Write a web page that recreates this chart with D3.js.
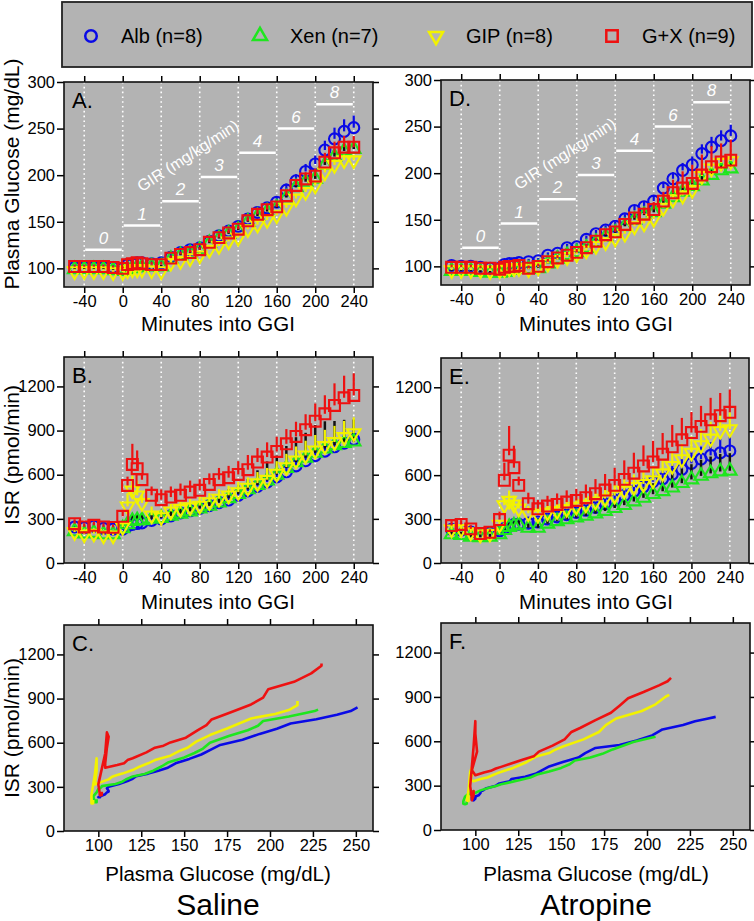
<!DOCTYPE html>
<html><head><meta charset="utf-8">
<script src="https://cdn.jsdelivr.net/npm/d3@7"></script>
<style>body{margin:0;background:#fff}svg{display:block}text{font-family:"Liberation Sans",Arial,Helvetica,sans-serif}</style>
</head><body><svg id="c" width="754" height="921"></svg>
<script>
// ---------- DATA ----------
const times = [-50,-40,-30,-20,-10,0,5,10,15,20,30,40,50,60,70,80,90,100,110,120,130,140,150,160,170,180,190,200,210,220,230,240];
const groups = ["Alb (n=8)","Xen (n=7)","GIP (n=8)","G+X (n=9)"];
const timeTicks = [-40,0,40,80,120,160,200,240];
const glucoseTicks = [100,150,200,250,300];
const isrTicks = [0,300,600,900,1200];
const glucoseXTicks = [100,125,150,175,200,225,250];
const girLabels = ["0","1","2","3","4","6","8"];
const girStart = [-40,0,40,80,120,160,200];
const girLevel = [120,146,172,198,224,250,276];

// Saline – plasma glucose (mg/dL)
const salGluAlb = [101,101,101,101,101,100,104,105,106,106,105,106,112,117,120,122,129,135,140,145,153,160,165,171,184,194,204,212,227,239,247,251];
const salGluXen = [99,99,99,99,98,97,99,100,101,101,102,102,110,114,116,120,127,132,137,141,150,156,161,165,176,187,193,196,211,220,226,228];
const salGluGip = [97,97,97,97,96,96,98,99,99,99,98,97,106,108,111,114,120,124,129,133,142,147,152,157,165,175,182,189,203,211,216,216];
const salGluGx  = [102,102,102,102,101,100,104,105,106,105,104,104,111,115,117,120,128,133,138,142,151,158,163,166,178,189,196,199,214,224,230,230];
const salGluErrAlb = [3,3,3,3,3,3,3,3,3,3,3,3,4,4,4,4,4,5,5,5,5,5,6,6,7,7,8,9,10,12,13,13];
const salGluErrXen = [2,2,2,2,2,2,2,2,2,2,2,2,3,3,3,3,3,3,3,3,4,4,4,4,5,5,5,5,6,6,6,6];
const salGluErrGip = [2,2,2,2,2,2,2,2,2,2,2,2,3,3,3,3,3,3,3,4,4,4,4,5,5,5,5,6,6,6,6,6];
const salGluErrGx  = [2,2,2,2,2,2,3,3,3,3,3,3,3,3,3,3,4,4,4,4,4,5,5,5,6,6,7,8,10,12,12,12];

// Saline – ISR (pmol/min)
const salIsrAlb = [245,240,250,235,230,230,250,262,268,272,290,300,320,340,355,372,390,410,428,460,490,520,550,585,620,660,695,730,760,790,815,840];
const salIsrXen = [215,200,205,195,195,235,262,285,290,290,300,305,320,335,350,370,388,410,440,468,500,530,560,600,645,685,715,748,778,800,815,825];
const salIsrGip = [210,195,200,188,188,245,385,494,460,408,324,312,351,369,380,390,414,437,460,482,512,543,566,607,652,697,731,765,795,822,856,883];
const salIsrGx  = [267,245,256,245,242,317,527,670,641,566,460,430,448,460,482,494,534,566,580,602,634,686,720,758,810,860,906,964,1014,1071,1123,1139];
const salIsrErrAlb = [20,20,20,20,20,20,20,20,20,20,20,20,25,25,25,25,25,30,30,30,30,35,35,35,40,40,40,45,45,45,50,50];
const salIsrErrXen = [25,25,25,25,25,25,30,45,45,40,30,35,40,40,45,45,50,55,60,60,70,100,130,130,150,170,170,190,185,165,158,150];
const salIsrErrGip = [20,20,20,20,20,30,90,100,100,60,60,50,50,50,55,60,60,65,65,70,70,75,80,85,90,95,100,105,110,110,110,107];
const salIsrErrGx  = [30,25,25,25,20,30,60,140,124,40,60,70,72,80,78,75,75,80,80,90,100,95,100,100,100,100,105,120,126,150,150,150];

// Atropine – plasma glucose (mg/dL)
const atrGluAlb = [101,100,100,99,98,98,102,103,103,104,105,106,112,114,120,121,129,135,139,143,151,160,164,170,184,194,203,209,221,228,235,240];
const atrGluXen = [95,95,95,94,93,93,94,96,97,98,97,98,103,108,112,115,120,126,132,136,143,150,155,158,167,174,180,186,192,198,203,205];
const atrGluGip = [96,96,96,96,95,96,97,98,98,98,97,99,103,107,110,113,117,122,126,130,135,143,146,151,163,172,176,182,197,205,211,213];
const atrGluGx  = [99,99,99,98,98,97,99,100,100,101,98,100,105,109,112,115,120,127,134,137,145,152,156,161,170,179,184,189,198,207,212,214];
const atrGluErrAlb = [3,3,3,3,3,3,3,3,3,3,3,3,3,3,4,4,4,4,5,5,5,5,6,6,7,7,8,9,10,11,11,12];
const atrGluErrXen = [2,2,2,2,2,2,2,2,2,2,2,2,2,3,3,3,3,3,3,4,4,4,4,5,5,5,6,6,6,7,7,8];
const atrGluErrGip = [2,2,2,2,2,2,2,2,2,2,2,2,3,3,3,3,3,3,4,4,4,4,5,5,5,6,6,6,7,7,7,7];
const atrGluErrGx  = [3,3,3,3,3,3,3,3,3,3,3,3,3,3,4,4,4,4,5,5,6,6,7,8,10,14,18,20,22,22,20,22];

// Atropine – ISR (pmol/min)
const atrIsrAlb = [230,225,212,200,205,220,235,250,262,265,272,280,300,315,330,345,360,380,405,430,460,490,520,555,575,605,640,680,710,735,752,765];
const atrIsrXen = [195,190,178,175,178,195,225,245,255,262,240,240,268,285,298,310,322,338,355,375,395,420,445,470,490,515,545,570,595,612,625,630];
const atrIsrGip = [230,232,210,195,200,262,395,425,400,372,340,330,345,355,370,385,400,420,440,460,495,520,540,565,613,663,709,754,805,850,903,914];
const atrIsrGx  = [256,263,233,201,210,297,565,736,651,530,405,370,389,400,416,427,446,473,498,530,571,613,663,690,743,793,841,891,933,978,1006,1029];
const atrIsrErrAlb = [25,25,25,25,25,25,25,25,25,25,30,30,35,35,40,40,45,45,50,50,55,55,60,60,65,70,75,80,85,90,95,100];
const atrIsrErrXen = [25,25,25,25,25,25,25,30,30,30,30,30,35,35,40,40,45,45,50,55,60,65,70,75,90,95,100,105,110,115,120,120];
const atrIsrErrGip = [25,25,25,25,25,30,60,70,60,50,50,50,50,55,55,60,60,65,70,75,80,85,90,95,100,100,105,110,110,115,115,115];
const atrIsrErrGx  = [30,30,25,20,20,55,120,200,150,60,75,60,70,75,80,80,90,100,110,120,130,140,140,145,145,150,150,140,140,150,155,155];

// ---------- STYLE ----------
const colors = ["#0a0ae6","#1ee61e","#f2f200","#ee1111"];
const errColors = ["#0a0ae6","#111111","#f2f200","#ee1111"];
const symbols = [
  {t:d3.symbolCircle, size:95, rot:0},
  {t:d3.symbolTriangle, size:78, rot:0},
  {t:d3.symbolTriangle, size:78, rot:180},
  {t:d3.symbolSquare, size:118, rot:0}
];
const bg = "#b3b3b3";
const svg = d3.select("#c");
const fmt = d => String(d);

// ---------- LEGEND ----------
const leg = svg.append("g");
leg.append("rect").attr("x",62).attr("y",2).attr("width",690).attr("height",65)
  .attr("fill",bg).attr("stroke","#222").attr("stroke-width",1.8);
const legX = [91,260,436,612];
groups.forEach((g,i)=>{
  leg.append("path").attr("d",d3.symbol().type(symbols[i].t).size(symbols[i].size*1.1)())
    .attr("transform",`translate(${legX[i]},36) rotate(${symbols[i].rot})`)
    .attr("fill","none").attr("stroke",colors[i]).attr("stroke-width",2.5);
  leg.append("text").attr("x",legX[i]+30).attr("y",43).attr("font-size",20).text(g);
});

// ---------- HELPERS ----------
function frameAxes(g, box, x, y, xTicks, yTicks) {
  g.append("rect").attr("x",box.l).attr("y",box.t).attr("width",box.r-box.l).attr("height",box.b-box.t).attr("fill",bg);
  const ax = (axis, tr, labels) => {
    const a = g.append("g").attr("transform",tr).call(axis);
    a.select(".domain").remove();
    a.selectAll(".tick line").attr("stroke","#000").attr("stroke-width",1.5);
    a.selectAll(".tick text").attr("font-size",16.5).attr("fill","#000")
      .attr("font-family",'"Liberation Sans",Arial,sans-serif');
    if(!labels) a.selectAll(".tick text").remove();
    return a;
  };
  ax(d3.axisLeft(y).tickValues(yTicks).tickFormat(fmt).tickSize(7).tickPadding(2), `translate(${box.l},0)`, true);
  ax(d3.axisRight(y).tickValues(yTicks).tickSize(6), `translate(${box.r},0)`, false);
  ax(d3.axisBottom(x).tickValues(xTicks).tickFormat(fmt).tickSize(6).tickPadding(2), `translate(0,${box.b})`, true);
  ax(d3.axisTop(x).tickValues(xTicks).tickSize(6), `translate(0,${box.t})`, false);
}
function border(g, box){
  g.append("rect").attr("x",box.l).attr("y",box.t).attr("width",box.r-box.l).attr("height",box.b-box.t)
    .attr("fill","none").attr("stroke","#111").attr("stroke-width",1.6);
}
function letter(g, box, s){
  g.append("text").attr("x",box.l+8).attr("y",box.t+26).attr("font-size",22).text(s);
}

function timePanel(box, yDomain, yTicks, vals, errs, lab, gir){
  const g = svg.append("g");
  const x = d3.scaleLinear().domain([-61,260]).range([box.l,box.r]);
  const y = d3.scaleLinear().domain(yDomain).range([box.b,box.t]);
  frameAxes(g, box, x, y, timeTicks, yTicks);
  g.selectAll(".grid").data(timeTicks).enter().append("line")
    .attr("x1",d=>x(d)).attr("x2",d=>x(d)).attr("y1",box.t).attr("y2",box.b)
    .attr("stroke","#fff").attr("stroke-width",1.6).attr("stroke-dasharray","1.6,3.2");
  if(gir){
    girLabels.forEach((s,i)=>{
      g.append("line").attr("x1",x(girStart[i])+1).attr("x2",x(girStart[i]+40)-1)
        .attr("y1",y(girLevel[i])).attr("y2",y(girLevel[i]))
        .attr("stroke","#fff").attr("stroke-width",2.5);
      g.append("text").attr("x",x(girStart[i]+20)).attr("y",y(girLevel[i])-6)
        .attr("text-anchor","middle").attr("font-size",17).attr("font-style","italic")
        .attr("fill","#fff").text(s);
    });
    g.append("text").attr("transform",`translate(${x(71)},${y(216)}) rotate(-33)`)
      .attr("text-anchor","middle").attr("font-size",16).attr("fill","#fff").text("GIR (mg/kg/min)");
  }
  vals.forEach((v,k)=>{
    const e = errs[k];
    g.append("g").selectAll("line").data(times).enter().append("line")
      .attr("x1",d=>x(d)).attr("x2",d=>x(d))
      .attr("y1",(d,i)=>y(v[i])).attr("y2",(d,i)=>y(v[i]+e[i]))
      .attr("stroke",errColors[k]).attr("stroke-width",k===1?2.5:2.2);
    g.append("g").selectAll("path").data(times).enter().append("path")
      .attr("d",d3.symbol().type(symbols[k].t).size(symbols[k].size)())
      .attr("transform",(d,i)=>`translate(${x(d)},${y(v[i])}) rotate(${symbols[k].rot})`)
      .attr("fill","none").attr("stroke",colors[k]).attr("stroke-width",2.1);
  });
  border(g, box);
  letter(g, box, lab);
}

function relPanel(box, glu, isr, lab){
  const g = svg.append("g");
  const x = d3.scaleLinear().domain([80,260]).range([box.l,box.r]);
  const y = d3.scaleLinear().domain([0,1400]).range([box.b,box.t]);
  frameAxes(g, box, x, y, glucoseXTicks, isrTicks);
  const idx = d3.range(times.length);
  [0,1,2,3].forEach(k=>{
    g.append("path").attr("d",d3.line().x(i=>x(glu[k][i])).y(i=>y(isr[k][i]))(idx))
      .attr("fill","none").attr("stroke",colors[k]).attr("stroke-width",2.6).attr("stroke-linejoin","round");
  });
  border(g, box);
  letter(g, box, lab);
}

// ---------- PANELS ----------
const boxA = {l:64,r:373,t:82,b:287};
const boxB = {l:64,r:373,t:357,b:563};
const boxC = {l:64,r:373,t:625,b:831};
const boxD = {l:441,r:750,t:80,b:285};
const boxE = {l:441,r:749,t:358,b:563};
const boxF = {l:441,r:750,t:623,b:830};

timePanel(boxA,[80,300],glucoseTicks,[salGluAlb,salGluXen,salGluGip,salGluGx],[salGluErrAlb,salGluErrXen,salGluErrGip,salGluErrGx],"A.",true);
timePanel(boxB,[0,1400],isrTicks,[salIsrAlb,salIsrXen,salIsrGip,salIsrGx],[salIsrErrAlb,salIsrErrXen,salIsrErrGip,salIsrErrGx],"B.",false);
relPanel(boxC,[salGluAlb,salGluXen,salGluGip,salGluGx],[salIsrAlb,salIsrXen,salIsrGip,salIsrGx],"C.");
timePanel(boxD,[80,300],glucoseTicks,[atrGluAlb,atrGluXen,atrGluGip,atrGluGx],[atrGluErrAlb,atrGluErrXen,atrGluErrGip,atrGluErrGx],"D.",true);
timePanel(boxE,[0,1400],isrTicks,[atrIsrAlb,atrIsrXen,atrIsrGip,atrIsrGx],[atrIsrErrAlb,atrIsrErrXen,atrIsrErrGip,atrIsrErrGx],"E.",false);
relPanel(boxF,[atrGluAlb,atrGluXen,atrGluGip,atrGluGx],[atrIsrAlb,atrIsrXen,atrIsrGip,atrIsrGx],"F.");

// ---------- AXIS TITLES ----------
function ytitle(cx, cy, s){
  svg.append("text").attr("transform",`translate(${cx},${cy}) rotate(-90)`)
    .attr("text-anchor","middle").attr("font-size",21).text(s);
}
ytitle(19,174,"Plasma Glucose (mg/dL)");
ytitle(19,455,"ISR (pmol/min)");
ytitle(19,728,"ISR (pmol/min)");
function xtitle(cx, y, s, fs){
  svg.append("text").attr("x",cx).attr("y",y).attr("text-anchor","middle").attr("font-size",fs||20.5).text(s);
}
xtitle(218,331,"Minutes into GGI");
xtitle(596,331,"Minutes into GGI");
xtitle(218,609,"Minutes into GGI");
xtitle(596,609,"Minutes into GGI");
xtitle(218,881,"Plasma Glucose (mg/dL)");
xtitle(596,881,"Plasma Glucose (mg/dL)");
xtitle(218,915,"Saline",30);
xtitle(596,915,"Atropine",30);
</script></body></html>
